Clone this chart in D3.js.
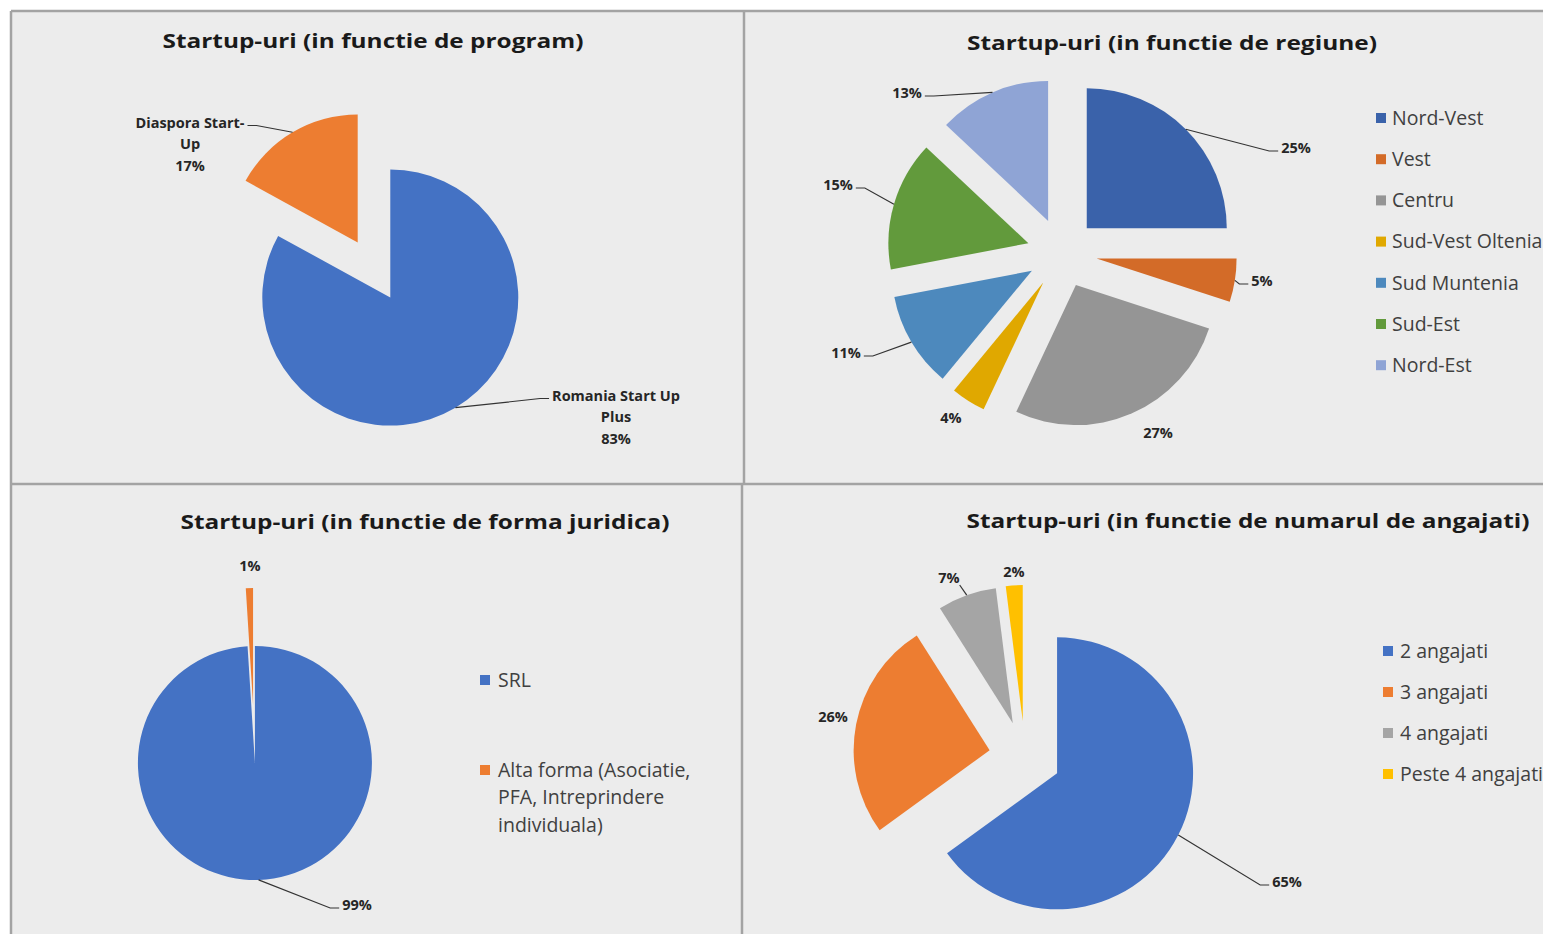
<!DOCTYPE html>
<html>
<head>
<meta charset="utf-8">
<script src="https://cdn.jsdelivr.net/npm/d3@7"></script>
<style>
  body { margin: 0; background: #fff; overflow: hidden; }
  text { font-family: "Open Sans", sans-serif; }
</style>
</head>
<body>
<div id="chartContainer"></div>
<script>

// Startup-uri (in functie de program)
const programCategories = ['Romania Start Up Plus', 'Diaspora Start-Up'];
const programValues = [83, 17];

// Startup-uri (in functie de regiune)
const regionCategories = ['Nord-Vest', 'Vest', 'Centru', 'Sud-Vest Oltenia', 'Sud Muntenia', 'Sud-Est', 'Nord-Est'];
const regionValues = [25, 5, 27, 4, 11, 15, 13];

// Startup-uri (in functie de forma juridica)
const formCategories = ['SRL', 'Alta forma (Asociatie, PFA, Intreprindere individuala)'];
const formValues = [99, 1];

// Startup-uri (in functie de numarul de angajati)
const employeeCategories = ['2 angajati', '3 angajati', '4 angajati', 'Peste 4 angajati'];
const employeeValues = [65, 26, 7, 2];

const officeColors = ['#4472c4', '#ed7d31', '#a5a5a5', '#ffc000'];
const regionColors = ['#3a62aa', '#d36b28', '#959595', '#e0a800', '#4d89bd', '#629a3c', '#8fa4d5'];

const width = 1543;
const height = 934;

const svg = d3.select('#chartContainer')
    .append('svg')
    .attr('width', width)
    .attr('height', height)
    .style('display', 'block');

// sheet background + cell borders
svg.append('rect')
    .attr('x', 11).attr('y', 11)
    .attr('width', width).attr('height', height)
    .attr('fill', '#ececec');

const borders = [
    [11, 11, width, 11],
    [11, 11, 11, height],
    [744, 11, 744, 484],
    [742, 484, 742, height],
    [11, 484, width, 484]
];
svg.append('g')
    .selectAll('line')
    .data(borders)
    .join('line')
    .attr('x1', d => d[0]).attr('y1', d => d[1])
    .attr('x2', d => d[2]).attr('y2', d => d[3])
    .attr('stroke', '#a3a3a3')
    .attr('stroke-width', 2.5);

const measurer = svg.append('text').attr('visibility', 'hidden');
function textWidth(str, font) {
    measurer.style('font', font).text(str);
    return measurer.node().getComputedTextLength();
}

// greedy wrap, breaking on spaces and after hyphens
function wrapText(str, maxW, font) {
    const tokens = str.split(/(?<=[\s-])/);
    const lines = [];
    let line = '';
    tokens.forEach(tok => {
        const test = line + tok;
        if (line && textWidth(test.trim(), font) > maxW) {
            lines.push(line.trim());
            line = tok;
        } else {
            line = test;
        }
    });
    if (line) lines.push(line.trim());
    return lines;
}

const titleFont = 'bold 20px "Open Sans"';
const labelFont = 'bold 14.5px "Open Sans"';
const legendFont = '19.5px "Open Sans"';

const charts = [
    {
        title: 'Startup-uri (in functie de program)', titleX: 373, titleY: 41, titleWidth: 421,
        categories: programCategories, values: programValues, colors: officeColors,
        cx: 374, cy: 270, r: 128, explode: 32, lineHeight: 21.5,
        labels: [
            { dx: 242, dy: 147, wrap: 150, name: true, leader: true },
            { dx: -184, dy: -126, wrap: 120, name: true, leader: true }
        ],
        legend: null
    },
    {
        title: 'Startup-uri (in functie de regiune)', titleX: 1172, titleY: 43, titleWidth: 410,
        categories: regionCategories, values: regionValues, colors: regionColors,
        cx: 1062, cy: 253, r: 140, explode: 35, lineHeight: 20,
        labels: [
            { dx: 234, dy: -105, leader: true },
            { dx: 200, dy: 28, leader: true },
            { dx: 96, dy: 180, leader: false },
            { dx: -111, dy: 165, leader: false },
            { dx: -216, dy: 100, leader: true },
            { dx: -224, dy: -68, leader: true },
            { dx: -155, dy: -160, leader: true }
        ],
        legend: { x: 1376, y: 118, step: 41.2, gap: 16, wrap: 400, lineHeight: 27.5 }
    },
    {
        title: 'Startup-uri (in functie de forma juridica)', titleX: 425, titleY: 522, titleWidth: 489,
        categories: formCategories, values: formValues, colors: officeColors,
        cx: 254, cy: 734, r: 117, explode: 29, lineHeight: 20,
        labels: [
            { dx: 103, dy: 171, leader: true },
            { dx: -4, dy: -168, leader: false }
        ],
        legend: { x: 480, y: 680, step: 90, gap: 18, wrap: 215, lineHeight: 27.5 }
    },
    {
        title: 'Startup-uri (in functie de numarul de angajati)', titleX: 1248, titleY: 521, titleWidth: 563,
        categories: employeeCategories, values: employeeValues, colors: officeColors,
        cx: 1025, cy: 757, r: 136, explode: 36, lineHeight: 20,
        labels: [
            { dx: 262, dy: 125, leader: true },
            { dx: -192, dy: -40, leader: false },
            { dx: -76, dy: -179, leader: true },
            { dx: -11, dy: -185, leader: false }
        ],
        legend: { x: 1383, y: 651, step: 41, gap: 17, wrap: 400, lineHeight: 27.5 }
    }
];

function drawChart(cfg) {
    const g = svg.append('g').attr('class', 'chart');

    g.append('text')
        .attr('x', cfg.titleX)
        .attr('y', cfg.titleY)
        .attr('dy', '0.35em')
        .attr('text-anchor', 'middle')
        .attr('textLength', cfg.titleWidth)
        .attr('lengthAdjust', 'spacingAndGlyphs')
        .style('font', titleFont)
        .attr('fill', '#1a1a1a')
        .text(cfg.title);

    const rows = cfg.categories.map((c, i) => ({ name: c, value: cfg.values[i], color: cfg.colors[i], label: cfg.labels[i] }));

    const pie = d3.pie().sort(null).value(d => d.value);
    const arcs = pie(rows);
    const arc = d3.arc().innerRadius(0).outerRadius(cfg.r);
    const mid = d => (d.startAngle + d.endAngle) / 2;

    g.append('g')
        .selectAll('path')
        .data(arcs)
        .join('path')
        .attr('transform', d => {
            const m = mid(d);
            return `translate(${cfg.cx + cfg.explode * Math.sin(m)},${cfg.cy - cfg.explode * Math.cos(m)})`;
        })
        .attr('d', arc)
        .attr('fill', d => d.data.color);

    // data labels + leader lines
    const labelGroup = g.append('g');
    arcs.forEach(d => {
        const lab = d.data.label;
        const lines = (lab.name ? wrapText(d.data.name, lab.wrap, labelFont) : []).concat([d.data.value + '%']);
        const lx = cfg.cx + lab.dx;
        const ly = cfg.cy + lab.dy;
        const n = lines.length;
        const ys = lines.map((l, i) => ly + (i - (n - 1) / 2) * cfg.lineHeight);

        labelGroup.selectAll(null)
            .data(lines)
            .enter()
            .append('text')
            .attr('x', lx)
            .attr('y', (l, i) => ys[i])
            .attr('dy', '0.35em')
            .attr('text-anchor', 'middle')
            .style('font', labelFont)
            .attr('fill', '#262626')
            .text(l => l);

        if (!lab.leader) return;

        const w = d3.max(lines, l => textWidth(l, labelFont));
        const w0 = textWidth(lines[0], labelFont);
        const left = lx - w0 / 2, right = lx + w0 / 2;
        const top = ys[0] - 7, bottom = ys[n - 1] + 7;
        const m = mid(d);
        const sx = cfg.cx + (cfg.explode + cfg.r) * Math.sin(m);
        const sy = cfg.cy - (cfg.explode + cfg.r) * Math.cos(m);
        let pts;
        if (sx < left - 8) {
            pts = [[sx, sy], [left - 12, ys[0] + 3], [left - 3, ys[0] + 3]];
        } else if (sx > right + 8) {
            pts = [[sx, sy], [right + 12, ys[0] + 3], [right + 3, ys[0] + 3]];
        } else {
            const bx = Math.max(lx - w / 2, Math.min(lx + w / 2, sx));
            pts = [[sx, sy], [bx, sy > bottom ? bottom : top]];
        }
        labelGroup.append('path')
            .attr('d', d3.line()(pts))
            .attr('fill', 'none')
            .attr('stroke', '#333')
            .attr('stroke-width', 1.2);
    });

    // legend
    if (cfg.legend) {
        const lg = cfg.legend;
        const legendGroup = g.append('g');
        rows.forEach((row, i) => {
            const yy = lg.y + i * lg.step;
            legendGroup.append('rect')
                .attr('x', lg.x)
                .attr('y', yy - 5)
                .attr('width', 10)
                .attr('height', 10)
                .attr('fill', row.color);
            const lines = wrapText(row.name, lg.wrap, legendFont);
            lines.forEach((l, j) => {
                legendGroup.append('text')
                    .attr('x', lg.x + lg.gap)
                    .attr('y', yy + j * lg.lineHeight)
                    .attr('dy', '0.35em')
                    .style('font', legendFont)
                    .attr('fill', '#404040')
                    .text(l);
            });
        });
    }
}

charts.forEach(drawChart);
measurer.remove();

</script>
</body>
</html>
